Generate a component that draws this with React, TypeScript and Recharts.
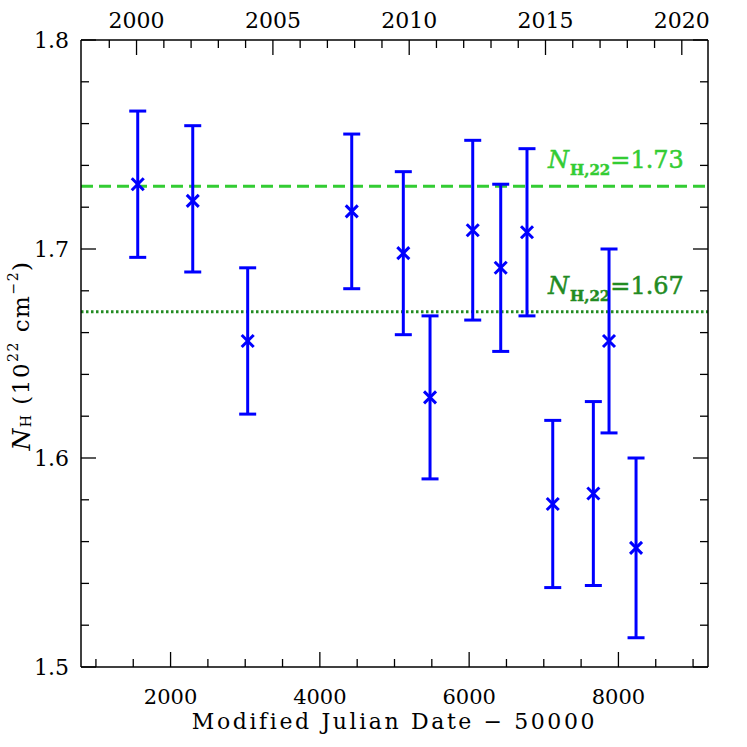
import { ScatterChart, Scatter, XAxis, YAxis, ErrorBar, ReferenceLine, Label } from "recharts";

// MJD - 50000 of each observation
const mjd = [1560, 2297, 3033, 4427, 5118, 5476, 6048, 6423, 6775, 7120, 7664, 7874, 8236];
// column density N_H in 1e22 cm^-2, with upper / lower ends of the error bars
const nh = [1.731, 1.723, 1.656, 1.718, 1.698, 1.629, 1.709, 1.691, 1.708, 1.578, 1.583, 1.656, 1.557];
const nhHigh = [1.766, 1.759, 1.691, 1.755, 1.737, 1.668, 1.752, 1.731, 1.748, 1.618, 1.627, 1.700, 1.600];
const nhLow = [1.696, 1.689, 1.621, 1.681, 1.659, 1.590, 1.666, 1.651, 1.668, 1.538, 1.539, 1.612, 1.514];

// the two constant fits
const fitValues = [1.73, 1.67];
const fitColors = ["#33cc33", "#228b22"];
const fitDash = ["12 6", "2.5 2.5"];

const xTicks = [1000, 1500, 2000, 2500, 3000, 3500, 4000, 4500, 5000, 5500, 6000, 6500, 7000, 7500, 8000, 8500, 9000];
const yTicks = [1.5, 1.52, 1.54, 1.56, 1.58, 1.6, 1.62, 1.64, 1.66, 1.68, 1.7, 1.72, 1.74, 1.76, 1.78, 1.8];
const years = [1999, 2000, 2001, 2002, 2003, 2004, 2005, 2006, 2007, 2008, 2009, 2010, 2011, 2012, 2013, 2014, 2015, 2016, 2017, 2018, 2019, 2020];
const yearLabels = [2000, 2005, 2010, 2015, 2020];

// Jan 1st of a year as MJD - 50000
const mjdOfYear = (y: number) => Math.round(Date.UTC(y, 0, 1) / 86400000) + 40587 - 50000;
const yearTicks = years.map(mjdOfYear);

const data = mjd.map((x, i) => ({
  x,
  y: nh[i],
  err: [nh[i] - nhLow[i], nhHigh[i] - nh[i]],
}));

const FONT = "DejaVu Serif";
const AX = "#000";
const MAJOR = 15;
const MINOR = 8;

const BottomTick = (p: any) => {
  const v = p.payload.value;
  const major = v % 2000 === 0;
  return (
    <g>
      <line x1={p.x} y1={p.y} x2={p.x} y2={p.y - (major ? MAJOR : MINOR)} stroke={AX} strokeWidth={1.3} />
      {major && (
        <text x={p.x} y={p.y + 37} textAnchor="middle" fontFamily={FONT} fontSize={21} fill="#000">
          {v}
        </text>
      )}
    </g>
  );
};

const TopTick = (p: any) => {
  const idx = yearTicks.findIndex((t) => Math.abs(t - p.payload.value) < 0.5);
  const yr = years[idx];
  const major = yearLabels.includes(yr);
  return (
    <g>
      <line x1={p.x} y1={p.y} x2={p.x} y2={p.y + (major ? MAJOR : MINOR)} stroke={AX} strokeWidth={1.3} />
      {major && (
        <text x={p.x} y={p.y - 12} textAnchor="middle" fontFamily={FONT} fontSize={22} fill="#000">
          {yr}
        </text>
      )}
    </g>
  );
};

const isMajorY = (v: number) => Math.abs(v * 10 - Math.round(v * 10)) < 1e-6;

const LeftTick = (p: any) => {
  const v = p.payload.value;
  const major = isMajorY(v);
  return (
    <g>
      <line x1={p.x} y1={p.y} x2={p.x + (major ? MAJOR : MINOR)} y2={p.y} stroke={AX} strokeWidth={1.3} />
      {major && (
        <text x={p.x - 12} y={p.y + 8} textAnchor="end" fontFamily={FONT} fontSize={22} fill="#000">
          {v.toFixed(1)}
        </text>
      )}
    </g>
  );
};

const RightTick = (p: any) => {
  const major = isMajorY(p.payload.value);
  return <line x1={p.x} y1={p.y} x2={p.x - (major ? MAJOR : MINOR)} y2={p.y} stroke={AX} strokeWidth={1.3} />;
};

const Cross = (p: any) => {
  const s = 6;
  return (
    <g stroke="#0000ff" strokeWidth={3}>
      <line x1={p.cx - s} y1={p.cy - s} x2={p.cx + s} y2={p.cy + s} />
      <line x1={p.cx - s} y1={p.cy + s} x2={p.cx + s} y2={p.cy - s} />
    </g>
  );
};

const Nothing = () => <g />;

const FitLabel = (p: any) => {
  const { x, y, width } = p.viewBox;
  return (
    <text x={x + width - 160} y={y - 18} fontFamily={FONT} fill={p.color} stroke={p.color} strokeWidth={0.5}>
      <tspan fontSize={24} fontStyle="italic">N</tspan>
      <tspan fontSize={15} fontWeight="bold" dy={7} dx={1}>H,22</tspan>
      <tspan fontSize={24} dy={-7}>{"=" + p.value.toFixed(2)}</tspan>
    </text>
  );
};

const YLabel = (p: any) => {
  const { x, y, height } = p.viewBox;
  const cx = x + 21;
  const cy = y + height / 2 + 2;
  return (
    <text x={cx} y={cy} transform={`rotate(-90 ${cx} ${cy})`} textAnchor="middle" fontFamily={FONT} fontSize={23} fill="#000" dominantBaseline="central" letterSpacing={1.5}>
      <tspan fontStyle="italic" fontSize={25}>N</tspan>
      <tspan fontSize={14} dy={5}>H</tspan>
      <tspan dy={-5}>{" (10"}</tspan>
      <tspan fontSize={14} dy={-8}>22</tspan>
      <tspan dy={8}>{" cm"}</tspan>
      <tspan fontSize={14} dy={-8}>−2</tspan>
      <tspan dy={8}>)</tspan>
    </text>
  );
};

const XLabel = (p: any) => {
  const { x, y, width } = p.viewBox;
  return (
    <text x={x + width / 2} y={y + 62} textAnchor="middle" fontFamily={FONT} fontSize={22} letterSpacing={2.6} fill="#000">
      Modified Julian Date − 50000
    </text>
  );
};

export default function App() {
  return (
    <div style={{ position: "absolute", left: 0, top: 0, background: "#fff" }}>
      <ScatterChart width={747} height={747} margin={{ top: 0, right: 0, bottom: 0, left: 0 }}>
        <XAxis
          xAxisId="bottom"
          orientation="bottom"
          type="number"
          dataKey="x"
          domain={[800, 9200]}
          ticks={xTicks}
          interval={0}
          height={80}
          tickSize={0}
          tickMargin={0}
          tickLine={false}
          tick={BottomTick}
          axisLine={{ stroke: AX, strokeWidth: 1.5 }}
        >
          <Label content={XLabel} />
        </XAxis>
        <XAxis
          xAxisId="top"
          orientation="top"
          type="number"
          dataKey="x"
          domain={[800, 9200]}
          allowDataOverflow
          ticks={yearTicks}
          interval={0}
          height={40}
          tickSize={0}
          tickMargin={0}
          tickLine={false}
          tick={TopTick}
          axisLine={{ stroke: AX, strokeWidth: 1.5 }}
        />
        <YAxis
          yAxisId="left"
          orientation="left"
          type="number"
          dataKey="y"
          domain={[1.5, 1.8]}
          ticks={yTicks}
          interval={0}
          width={81}
          tickSize={0}
          tickMargin={0}
          tickLine={false}
          tick={LeftTick}
          axisLine={{ stroke: AX, strokeWidth: 1.5 }}
        >
          <Label content={YLabel} />
        </YAxis>
        <YAxis
          yAxisId="right"
          orientation="right"
          type="number"
          dataKey="y"
          domain={[1.5, 1.8]}
          ticks={yTicks}
          interval={0}
          width={39}
          tickSize={0}
          tickMargin={0}
          tickLine={false}
          tick={RightTick}
          axisLine={{ stroke: AX, strokeWidth: 1.5 }}
        />
        {fitValues.map((v, i) => (
          <ReferenceLine
            key={v}
            xAxisId="bottom"
            yAxisId="left"
            y={v}
            stroke={fitColors[i]}
            strokeWidth={3}
            strokeDasharray={fitDash[i]}
            label={<FitLabel value={v} color={fitColors[i]} />}
          />
        ))}
        {/* invisible twin so the top and right axes have a series */}
        <Scatter xAxisId="top" yAxisId="right" data={data} shape={Nothing} isAnimationActive={false} />
        <Scatter xAxisId="bottom" yAxisId="left" data={data} shape={Cross} isAnimationActive={false}>
          <ErrorBar dataKey="err" direction="y" width={8.5} stroke="#0000ff" strokeWidth={3} isAnimationActive={false} />
        </Scatter>
      </ScatterChart>
    </div>
  );
}
